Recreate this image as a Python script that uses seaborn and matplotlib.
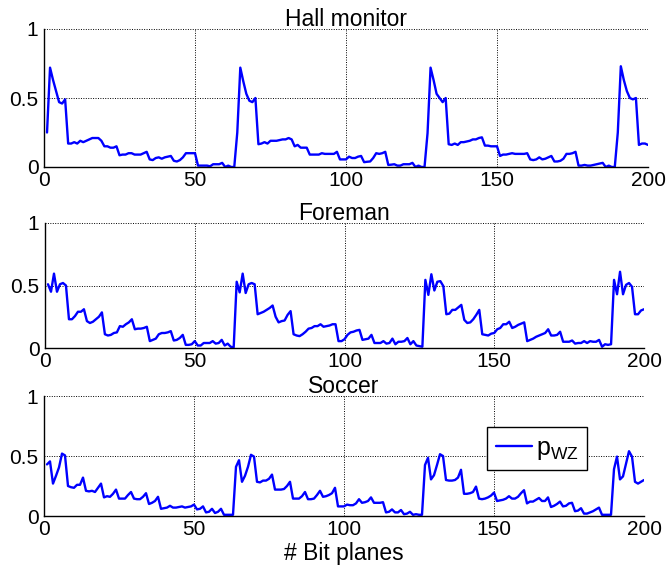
import matplotlib
matplotlib.use('Agg')
import matplotlib.pyplot as plt
import seaborn as sns

# p_WZ per bit plane (4 GOP-like cycles of 63 planes)
hall_monitor = [
    0.25, 0.72, 0.63, 0.55, 0.47, 0.46, 0.49,
    0.17, 0.17, 0.18, 0.17, 0.19, 0.18, 0.19,
    0.20, 0.21, 0.21, 0.21, 0.19,
    0.15, 0.15, 0.14, 0.14, 0.15,
    0.085, 0.09, 0.09, 0.10, 0.10, 0.09, 0.09, 0.09, 0.10, 0.11,
    0.055, 0.05, 0.065, 0.07, 0.06, 0.07, 0.075, 0.08,
    0.045, 0.04, 0.05, 0.07, 0.10, 0.10, 0.10, 0.10,
    0.01, 0.01, 0.01, 0.01, 0.005, 0.02, 0.02, 0.02, 0.03, 0.0, 0.01, 0.0, 0.0,
    # 64-126
    0.25, 0.72, 0.62, 0.53, 0.48, 0.47, 0.50,
    0.165, 0.17, 0.18, 0.17, 0.19, 0.19, 0.19, 0.195, 0.20, 0.20, 0.21, 0.20,
    0.15, 0.16, 0.14, 0.14, 0.14,
    0.09, 0.09, 0.09, 0.09, 0.10, 0.095, 0.095, 0.095, 0.095, 0.11,
    0.055, 0.055, 0.055, 0.075, 0.065, 0.065, 0.075, 0.08,
    0.035, 0.038, 0.04, 0.065, 0.10, 0.095, 0.10, 0.11,
    0.015, 0.017, 0.02, 0.01, 0.01, 0.02, 0.02, 0.02, 0.03, 0.0, 0.01, 0.0, 0.0,
    # 127-189
    0.245, 0.72, 0.63, 0.53, 0.50, 0.47, 0.50,
    0.165, 0.16, 0.17, 0.16, 0.18, 0.18, 0.185, 0.19, 0.20, 0.20, 0.21, 0.215,
    0.155, 0.155, 0.15, 0.15, 0.15,
    0.08, 0.09, 0.09, 0.095, 0.10, 0.095, 0.095, 0.095, 0.095, 0.10,
    0.055, 0.05, 0.055, 0.07, 0.055, 0.06, 0.07, 0.08,
    0.04, 0.04, 0.045, 0.06, 0.095, 0.095, 0.10, 0.11,
    0.01, 0.01, 0.015, 0.01, 0.01, 0.015, 0.02, 0.025, 0.03, 0.0, 0.01, 0.0, 0.0,
    # 190-200
    0.25, 0.73, 0.63, 0.55, 0.50, 0.49, 0.50, 0.16, 0.17, 0.17, 0.16,
]

foreman = [
    0.51, 0.45, 0.595, 0.45, 0.51, 0.52, 0.50, 0.23, 0.23, 0.255, 0.29, 0.29, 0.31,
    0.215, 0.20, 0.21, 0.23, 0.25, 0.285, 0.11, 0.10, 0.105, 0.12, 0.125, 0.175, 0.17,
    0.19, 0.205, 0.23, 0.15, 0.155, 0.155, 0.16, 0.17, 0.055, 0.065, 0.075, 0.11, 0.12,
    0.12, 0.125, 0.135, 0.06, 0.065, 0.08, 0.105, 0.025, 0.025, 0.03, 0.055, 0.02, 0.02,
    0.04, 0.04, 0.04, 0.055, 0.035, 0.04, 0.065, 0.02, 0.035, 0.01, 0.005,
    # 64-126
    0.53, 0.445, 0.595, 0.44, 0.51, 0.52, 0.51, 0.27, 0.28, 0.29, 0.305, 0.32, 0.34,
    0.25, 0.205, 0.215, 0.22, 0.265, 0.295, 0.11, 0.10, 0.095, 0.11, 0.13, 0.155, 0.16,
    0.175, 0.175, 0.19, 0.17, 0.175, 0.18, 0.19, 0.19, 0.055, 0.055, 0.07, 0.105, 0.125,
    0.13, 0.14, 0.145, 0.065, 0.07, 0.075, 0.105, 0.04, 0.04, 0.04, 0.055, 0.035, 0.04,
    0.075, 0.03, 0.05, 0.05, 0.055, 0.08, 0.03, 0.055, 0.02, 0.015, 0.01,
    # 127-189
    0.545, 0.425, 0.59, 0.46, 0.53, 0.535, 0.495, 0.27, 0.275, 0.305, 0.305, 0.325, 0.345,
    0.225, 0.20, 0.205, 0.23, 0.265, 0.305, 0.11, 0.105, 0.10, 0.115, 0.12, 0.15, 0.16,
    0.19, 0.19, 0.21, 0.16, 0.17, 0.185, 0.195, 0.205, 0.055, 0.065, 0.075, 0.09, 0.10,
    0.11, 0.12, 0.15, 0.10, 0.10, 0.105, 0.13, 0.05, 0.05, 0.05, 0.06, 0.035, 0.04, 0.04,
    0.055, 0.04, 0.055, 0.05, 0.05, 0.065, 0.01, 0.03, 0.025, 0.03,
    # 190-200
    0.545, 0.43, 0.61, 0.43, 0.505, 0.52, 0.49, 0.27, 0.27, 0.30, 0.31,
]

soccer = [
    0.43, 0.455, 0.27, 0.335, 0.405, 0.52, 0.505, 0.25, 0.24, 0.235, 0.26, 0.26, 0.32,
    0.21, 0.205, 0.21, 0.20, 0.235, 0.27, 0.155, 0.165, 0.16, 0.185, 0.22, 0.145, 0.145,
    0.145, 0.175, 0.20, 0.145, 0.14, 0.14, 0.16, 0.19, 0.10, 0.11, 0.125, 0.16, 0.06,
    0.065, 0.07, 0.085, 0.07, 0.07, 0.075, 0.08, 0.07, 0.075, 0.08, 0.095, 0.055, 0.06,
    0.08, 0.03, 0.035, 0.06, 0.025, 0.035, 0.06, 0.01, 0.01, 0.01, 0.01,
    # 64-126
    0.41, 0.465, 0.285, 0.335, 0.41, 0.51, 0.495, 0.285, 0.28, 0.295, 0.295, 0.31, 0.345,
    0.22, 0.22, 0.22, 0.225, 0.25, 0.285, 0.145, 0.145, 0.145, 0.165, 0.20, 0.14, 0.14,
    0.145, 0.175, 0.21, 0.16, 0.165, 0.175, 0.19, 0.235, 0.08, 0.08, 0.08, 0.095, 0.09,
    0.09, 0.105, 0.14, 0.11, 0.115, 0.125, 0.155, 0.11, 0.11, 0.11, 0.115, 0.03, 0.035,
    0.055, 0.03, 0.03, 0.05, 0.015, 0.02, 0.035, 0.01, 0.015, 0.01, 0.01,
    # 127-189
    0.425, 0.485, 0.305, 0.34, 0.425, 0.515, 0.50, 0.30, 0.295, 0.295, 0.30, 0.32, 0.385,
    0.185, 0.185, 0.19, 0.20, 0.245, 0.145, 0.14, 0.145, 0.155, 0.17, 0.195, 0.125, 0.13,
    0.135, 0.145, 0.165, 0.145, 0.145, 0.16, 0.19, 0.215, 0.105, 0.12, 0.12, 0.135, 0.15,
    0.125, 0.125, 0.155, 0.075, 0.085, 0.10, 0.12, 0.08, 0.085, 0.105, 0.11, 0.04, 0.045,
    0.065, 0.02, 0.02, 0.03, 0.04, 0.055, 0.07, 0.01, 0.01, 0.01, 0.01,
    # 190-200
    0.39, 0.495, 0.305, 0.33, 0.435, 0.54, 0.495, 0.285, 0.27, 0.285, 0.30,
]

titles = ['Hall monitor', 'Foreman', 'Soccer']
series = [hall_monitor, foreman, soccer]
x_ticks = [0, 50, 100, 150, 200]
y_ticks = [0, 0.5, 1]
y_tick_labels = ['0', '0.5', '1']

sns.set_style('white')
plt.rcParams['font.family'] = ['Liberation Sans', 'DejaVu Sans']
plt.rcParams['mathtext.fontset'] = 'custom'
plt.rcParams['mathtext.rm'] = 'Liberation Sans'
plt.rcParams['text.color'] = 'black'
plt.rcParams['axes.labelcolor'] = 'black'

fig = plt.figure(figsize=(6.68, 5.68), dpi=100)
W, H = 668.0, 568.0
# axes boxes in pixels: left, top, right, bottom
boxes = [(44, 29, 648, 167), (45, 223, 644, 348), (44, 396, 644, 516)]

for (l, t, r, b), title, values in zip(boxes, titles, series):
    ax = fig.add_axes([l / W, 1 - b / H, (r - l) / W, (b - t) / H])
    planes = list(range(1, len(values) + 1))
    sns.lineplot(x=planes, y=values, ax=ax, color='#0000ff', linewidth=1.7,
                 label=r'p$_{\rm WZ}$' if title == 'Soccer' else None, legend=False)
    ax.set_xlim(0, 200)
    ax.set_ylim(0, 1)
    ax.set_xticks(x_ticks)
    ax.set_yticks(y_ticks)
    ax.set_yticklabels(y_tick_labels)
    ax.grid(True, color='black', linestyle=(0, (1, 1.5)), linewidth=0.7)
    ax.tick_params(direction='in', length=4, labelsize=15, colors='black')
    ax.tick_params(axis='x', pad=3)
    ax.tick_params(axis='y', pad=4)
    for side in ['top', 'right']:
        ax.spines[side].set_visible(False)
    for side in ['left', 'bottom']:
        ax.spines[side].set_color('black')
        ax.spines[side].set_linewidth(1.0)
    ax.set_title(title, fontsize=16.5, pad=2, color='black')
    ax.set_xlabel('')
    ax.set_ylabel('')
    if title == 'Soccer':
        ax.set_xlabel('# Bit planes', fontsize=16.5, labelpad=2, color='black')
        leg = ax.legend(loc='upper left', bbox_to_anchor=(0.738, 0.742), borderaxespad=0,
                        fancybox=False, framealpha=1, edgecolor='black', fontsize=18,
                        handlelength=1.45, handletextpad=0.15, borderpad=0.35,
                        labelcolor='black')
        leg.get_frame().set_linewidth(1.0)

fig.savefig('out.png', dpi=100)
